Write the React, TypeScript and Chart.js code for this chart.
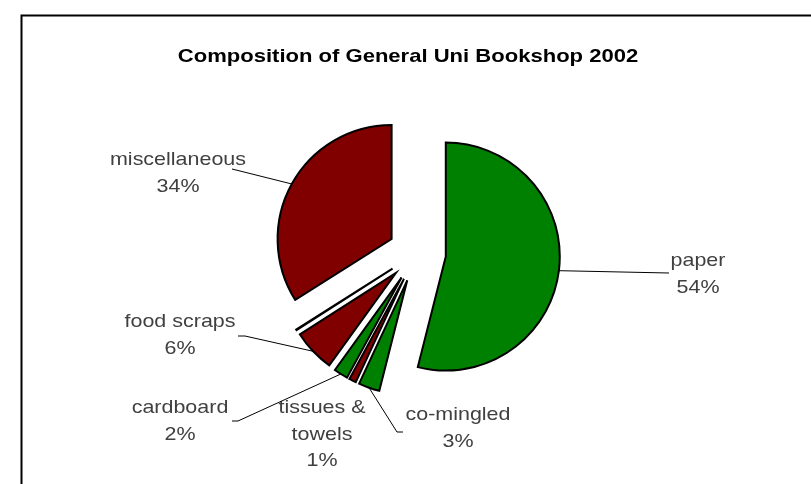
import React, { useEffect, useRef } from 'react';
import { Chart, registerables } from 'chart.js';

Chart.register(...registerables);

// ---- data ----
const categories = ['paper', 'co-mingled', 'tissues &\ntowels', 'cardboard', 'food scraps', '', 'miscellaneous'];
const values = [54, 3, 1, 2, 6, 0.1, 34];
const sliceColors = ['#008000', '#008000', '#800000', '#008000', '#800000', '#800000', '#800000'];
const titleText = 'Composition of General Uni Bookshop 2002';

// ---- styling / layout ----
const W = 811;
const H = 484;
const RADIUS = 114;
const EXPLODE = 29;
const LABEL_SCALE_X = 1.13;
const TITLE_SCALE_X = 1.16;
const LINE_H = 26.5;
const LABEL_LAYOUT: ({ x: number; y: number; leader: number[][] | null } | null)[] = [
  { x: 698, y: 261, leader: [[669, 273]] },
  { x: 458, y: 415, leader: [[403, 432], [397, 432]] },
  { x: 322, y: 408, leader: null },
  { x: 180, y: 408, leader: [[232, 421], [238, 421]] },
  { x: 180, y: 322, leader: [[238, 336], [245, 336]] },
  null,
  { x: 178, y: 160, leader: [[232, 169]] },
];

const total = values.reduce((a, b) => a + b, 0);

const explodePlugin = {
  id: 'explodePie',
  beforeDatasetDraw(chart: any, args: any) {
    const ctx = chart.ctx;
    args.meta.data.forEach((arc: any) => {
      const mid = (arc.startAngle + arc.endAngle) / 2;
      ctx.save();
      ctx.translate(Math.cos(mid) * EXPLODE, Math.sin(mid) * EXPLODE);
      arc.draw(ctx, chart.chartArea);
      ctx.restore();
    });
    return false;
  },
};

const framePlugin = {
  id: 'frame',
  beforeDraw(chart: any) {
    const ctx = chart.ctx;
    ctx.save();
    ctx.fillStyle = '#ffffff';
    ctx.fillRect(0, 0, W, H);
    ctx.strokeStyle = '#000000';
    ctx.lineWidth = 2;
    ctx.beginPath();
    ctx.moveTo(21.5, H + 2);
    ctx.lineTo(21.5, 15.5);
    ctx.lineTo(W + 2, 15.5);
    ctx.stroke();
    ctx.restore();
  },
};

function drawScaledText(ctx: CanvasRenderingContext2D, text: string, x: number, y: number, sx: number) {
  ctx.save();
  ctx.translate(x, y);
  ctx.scale(sx, 1);
  ctx.fillText(text, 0, 0);
  ctx.restore();
}

const labelPlugin = {
  id: 'labels',
  afterDraw(chart: any) {
    const ctx = chart.ctx;
    ctx.save();
    // title
    ctx.fillStyle = '#000000';
    ctx.font = 'bold 19px "Liberation Sans", Arial, sans-serif';
    ctx.textAlign = 'center';
    ctx.textBaseline = 'middle';
    drawScaledText(ctx, titleText, 408, 57, TITLE_SCALE_X);

    const meta = chart.getDatasetMeta(0);
    meta.data.forEach((arc: any, i: number) => {
      const lay = LABEL_LAYOUT[i];
      if (!lay) return;
      // leader line
      if (lay.leader) {
        const mid = (arc.startAngle + arc.endAngle) / 2;
        const r = arc.outerRadius + EXPLODE;
        const ax = arc.x + Math.cos(mid) * r;
        const ay = arc.y + Math.sin(mid) * r;
        ctx.strokeStyle = '#000000';
        ctx.lineWidth = 1;
        ctx.beginPath();
        ctx.moveTo(lay.leader[0][0], lay.leader[0][1]);
        for (let k = 1; k < lay.leader.length; k++) ctx.lineTo(lay.leader[k][0], lay.leader[k][1]);
        ctx.lineTo(ax, ay);
        ctx.stroke();
      }
      const lines = categories[i].split('\n');
      lines.push(Math.round((values[i] / total) * 100) + '%');
      ctx.fillStyle = '#404040';
      ctx.font = '19px "Liberation Sans", Arial, sans-serif';
      ctx.textAlign = 'center';
      ctx.textBaseline = 'middle';
      lines.forEach((ln, k) => drawScaledText(ctx, ln, lay.x, lay.y + k * LINE_H, LABEL_SCALE_X));
    });
    ctx.restore();
  },
};

export default function App() {
  const ref = useRef<HTMLCanvasElement | null>(null);
  useEffect(() => {
    if (!ref.current) return;
    const chart = new Chart(ref.current, {
      type: 'pie',
      data: {
        labels: categories,
        datasets: [
          {
            data: values,
            backgroundColor: sliceColors,
            borderColor: '#000000',
            borderWidth: 2,
            borderJoinStyle: 'miter',
            radius: RADIUS,
          } as any,
        ],
      },
      options: {
        responsive: false,
        animation: false,
        devicePixelRatio: 1,
        layout: { padding: { left: 267, right: 244, top: 103, bottom: 81 } },
        plugins: {
          legend: { display: false },
          title: { display: false },
          tooltip: { enabled: false },
        },
      },
      plugins: [framePlugin, explodePlugin, labelPlugin],
    });
    return () => chart.destroy();
  }, []);
  return (
    <div style={{ position: 'fixed', left: 0, top: 0, width: W, height: H, overflow: 'hidden', background: '#fff' }}>
      <canvas ref={ref} width={W} height={H} style={{ width: W, height: H, display: 'block' }} />
    </div>
  );
}
